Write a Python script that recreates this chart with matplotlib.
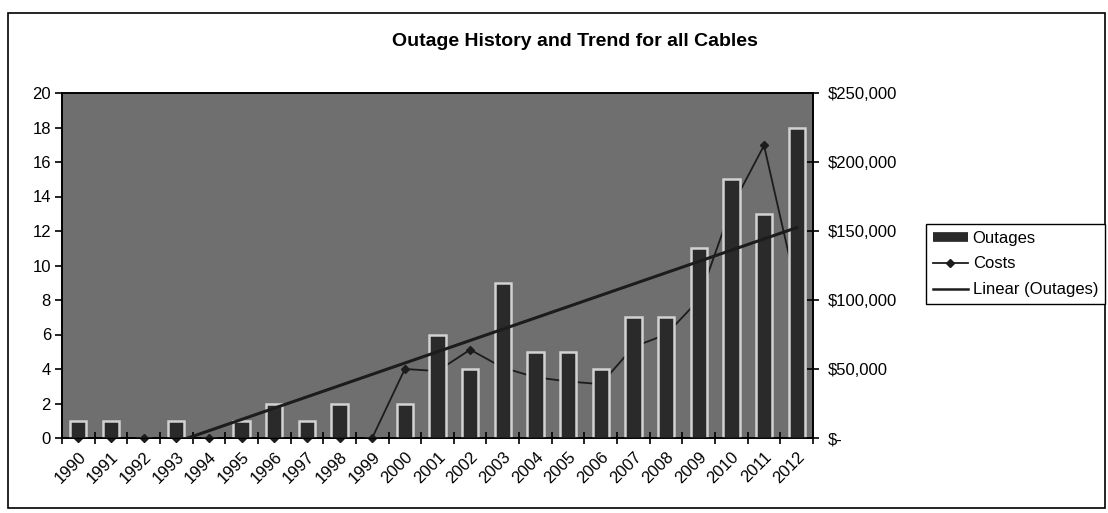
import matplotlib
matplotlib.use('Agg')
import matplotlib.pyplot as plt
import numpy as np
from matplotlib.ticker import FuncFormatter
from matplotlib.lines import Line2D
from matplotlib.patches import Rectangle

# ---- data ----
years = [str(y) for y in range(1990, 2013)]
outages = [1, 1, 0, 1, 0, 1, 2, 1, 2, 0, 2, 6, 4, 9, 5, 5, 4, 7, 7, 11, 15, 13, 18]
costs = [0, 0, 0, 0, 0, 0, 0, 0, 0, 0,
         50000, 48500, 64000, 51000, 44000, 41000, 39000,
         66000, 75000, 100000, 167000, 212000, 108000]
left_ticks = list(range(0, 21, 2))
right_ticks = list(range(0, 250001, 50000))
title = "Outage History and Trend for all Cables"
legend_labels = ["Outages", "Costs", "Linear (Outages)"]

plt.rcParams['font.family'] = ['Liberation Sans', 'DejaVu Sans']

W, H = 1108, 513
fig = plt.figure(figsize=(W / 100, H / 100), dpi=100)
fig.patch.set_facecolor('white')

rect = [62 / W, 1 - 438 / H, (813 - 62) / W, (438 - 93) / H]
ax_cost = fig.add_axes(rect)
ax_out = ax_cost.twinx()

x = np.arange(len(years))
line_col = '#1c1c1c'
bar_col = '#2a2a2a'

# background + costs (behind bars)
ax_cost.set_facecolor('#6f6f6f')
ax_cost.plot(x, costs, color=line_col, lw=1.3, marker='D', ms=4, zorder=2,
             clip_on=False)
ax_cost.set_ylim(0, 250000)
ax_cost.set_yticks(right_ticks)
ax_cost.yaxis.tick_right()
ax_cost.yaxis.set_major_formatter(
    FuncFormatter(lambda v, p: '$-' if v == 0 else f'${v:,.0f}'))

# bars and trend on top
ax_out.bar(x, outages, width=0.5, color=bar_col, edgecolor='#d2d2d2',
           linewidth=1.8, zorder=2)
coef = np.polyfit(x + 1, outages, 1)
ax_out.plot(x, np.polyval(coef, x + 1), color=line_col, lw=2.2, zorder=3)
ax_out.set_ylim(0, 20)
ax_out.set_yticks(left_ticks)
ax_out.yaxis.tick_left()

ax_cost.set_xlim(-0.5, len(years) - 0.5)
ax_cost.set_xticks(np.arange(-0.5, len(years), 1))
ax_cost.set_xticklabels([])
ax_cost.set_xticks(x, minor=True)
ax_cost.set_xticklabels(years, minor=True, rotation=45, ha='right',
                        rotation_mode='anchor', fontsize=12)
ax_cost.tick_params(axis='x', which='major', direction='inout', length=9,
                    width=1.2)
ax_cost.tick_params(axis='x', which='minor', length=0, pad=8)
ax_cost.tick_params(axis='y', direction='inout', length=9, width=1.2,
                    labelsize=12, pad=6)
ax_out.tick_params(axis='y', direction='out', length=5, width=1.2,
                   labelsize=12, pad=3)

for a in (ax_cost, ax_out):
    for s in a.spines.values():
        s.set_linewidth(1.2)
        s.set_color('black')

fig.text(575 / W, 1 - 42 / H, title, ha='center', va='center',
         fontsize=14, fontweight='bold')

handles = [
    Line2D([], [], color=bar_col, lw=7, solid_capstyle='butt'),
    Line2D([], [], color=line_col, lw=1.3, marker='D', ms=4),
    Line2D([], [], color=line_col, lw=1.8),
]
leg = fig.legend(handles, legend_labels, loc='upper left',
                 bbox_to_anchor=(926 / W, 1 - 224 / H), frameon=True,
                 fancybox=False, edgecolor='black', fontsize=12,
                 handlelength=2.1, handletextpad=0.3, labelspacing=0.65,
                 borderpad=0.4, borderaxespad=0)
leg.get_frame().set_linewidth(1.0)
leg.get_frame().set_alpha(1)

fig.patches.append(Rectangle((8 / W, 1 - 508 / H), (1105 - 8) / W,
                             (508 - 13) / H, transform=fig.transFigure,
                             fill=False, ec='black', lw=1.2))

fig.savefig('out.png', dpi=100)
